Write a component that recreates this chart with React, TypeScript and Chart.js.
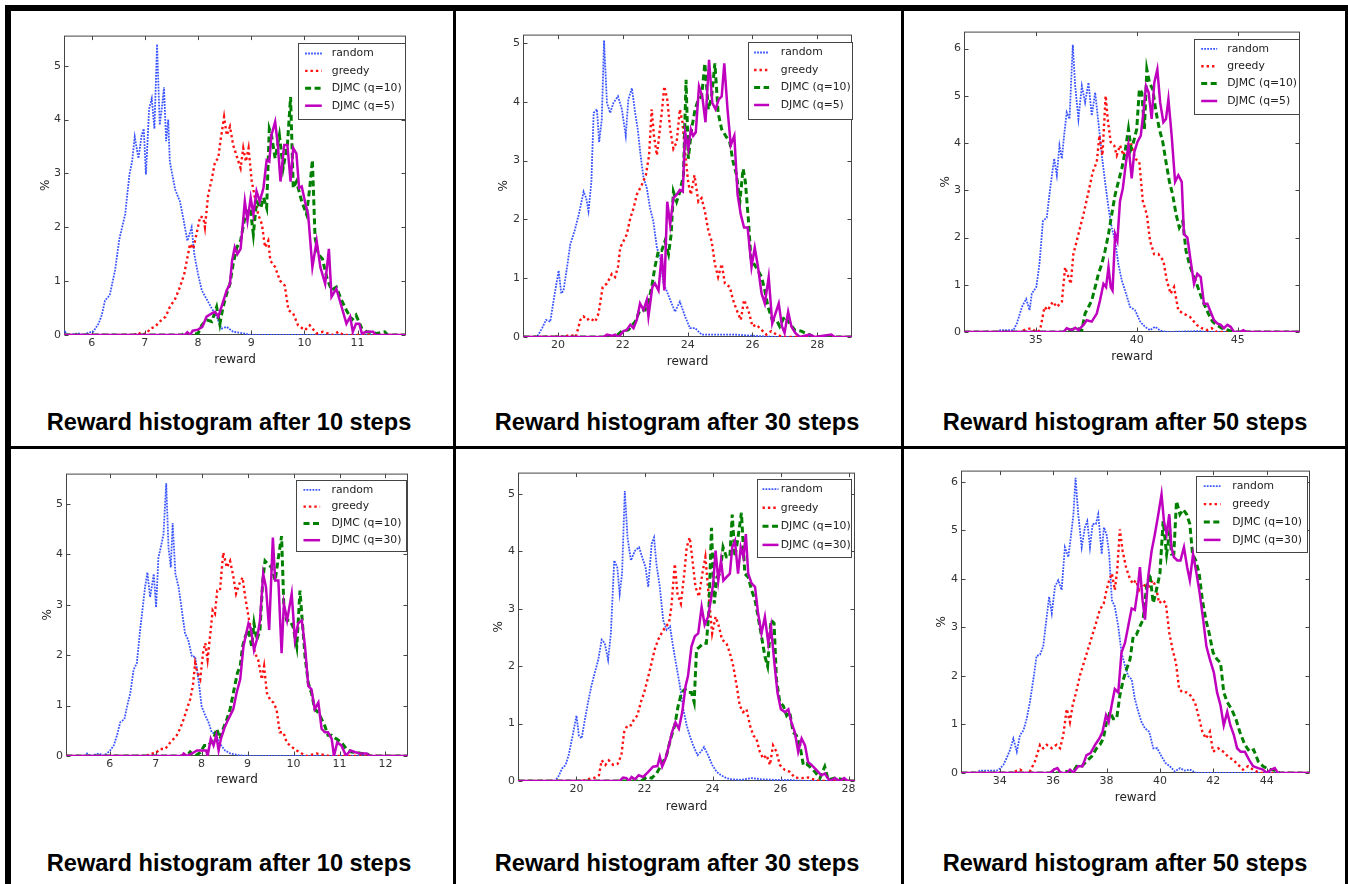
import React, { useEffect, useRef } from 'react';
import { Chart, registerables } from 'chart.js';

Chart.register(...registerables);

type Pt = [number, number];

// ---------------- shared labels ----------------
const seriesLabelsTop = ['random', 'greedy', 'DJMC (q=10)', 'DJMC (q=5)'];
const seriesLabelsBottom = ['random', 'greedy', 'DJMC (q=10)', 'DJMC (q=30)'];
const captions = [
  'Reward histogram after 10 steps',
  'Reward histogram after 30 steps',
  'Reward histogram after 50 steps',
  'Reward histogram after 10 steps',
  'Reward histogram after 30 steps',
  'Reward histogram after 50 steps',
];
const xAxisTitle = 'reward';
const yAxisTitle = '%';

// ---------------- panel 1 : 10 steps (q=5) ----------------
const p1XTicks = [6, 7, 8, 9, 10, 11];
const p1YTicks = [0, 1, 2, 3, 4, 5];
const p1Random: Pt[] = [[5.48,0],[5.5,0.06],[5.56,0],[5.75,0.03],[5.85,0],[5.95,0.05],[6.03,0.06],[6.13,0.21],[6.19,0.37],[6.25,0.64],[6.34,0.74],[6.44,1.2],[6.52,1.78],[6.63,2.24],[6.71,2.98],[6.76,3.22],[6.81,3.68],[6.88,3.28],[6.94,3.71],[6.98,3.83],[7.02,2.98],[7.08,4.2],[7.13,4.39],[7.18,3.83],[7.23,5.4],[7.28,3.9],[7.33,4.3],[7.36,4.6],[7.4,3.6],[7.44,4.0],[7.47,3.22],[7.57,2.7],[7.66,2.48],[7.72,2.18],[7.8,1.75],[7.88,2.0],[7.93,1.5],[8.0,1.13],[8.07,0.83],[8.16,0.67],[8.26,0.49],[8.35,0.34],[8.44,0.12],[8.54,0.15],[8.66,0.06],[8.85,0.03],[9.0,0],[11.91,0]];
const p1Greedy: Pt[] = [[5.48,0],[6.8,0],[6.87,0.05],[6.95,0],[7.05,0.05],[7.1,0.12],[7.19,0.15],[7.28,0.25],[7.39,0.34],[7.47,0.52],[7.57,0.67],[7.66,0.89],[7.74,1.13],[7.8,1.44],[7.85,1.69],[7.91,1.6],[7.97,1.87],[8.04,2.2],[8.1,2.18],[8.13,2.0],[8.19,2.6],[8.26,2.9],[8.32,3.22],[8.38,3.28],[8.42,3.59],[8.49,4.05],[8.54,3.71],[8.6,3.87],[8.66,3.53],[8.74,3.28],[8.8,3.1],[8.85,3.47],[8.9,3.22],[8.95,3.47],[9.01,2.85],[9.07,2.55],[9.13,2.24],[9.2,2.06],[9.26,1.63],[9.32,1.75],[9.36,1.38],[9.45,1.26],[9.54,1.01],[9.63,0.92],[9.7,0.46],[9.79,0.4],[9.88,0.18],[10.01,0.09],[10.1,0.18],[10.23,0.03],[10.35,0.06],[10.54,0],[10.64,0.06],[10.74,0],[11.91,0]];
const p1Djmc10: Pt[] = [[5.48,0],[7.7,0],[7.75,0.05],[7.85,0],[8.0,0.03],[8.07,0.18],[8.16,0.28],[8.26,0.25],[8.35,0.52],[8.41,0.2],[8.47,0.52],[8.54,0.77],[8.6,0.95],[8.66,1.32],[8.73,1.63],[8.8,1.75],[8.88,2.18],[8.98,2.36],[9.04,1.87],[9.1,2.48],[9.18,2.36],[9.23,2.55],[9.29,2.36],[9.34,3.83],[9.38,3.71],[9.45,3.28],[9.53,3.71],[9.6,3.1],[9.68,3.53],[9.74,4.42],[9.79,2.73],[9.85,2.85],[9.95,2.48],[10.04,2.24],[10.1,2.73],[10.15,3.25],[10.2,1.81],[10.26,1.5],[10.34,1.41],[10.42,1.07],[10.51,0.83],[10.6,0.89],[10.7,0.64],[10.79,0.46],[10.89,0.28],[10.97,0.37],[11.08,0.12],[11.17,0.06],[11.36,0.03],[11.51,0.06],[11.57,0],[11.91,0]];
const p1Djmc5: Pt[] = [[5.48,0],[7.75,0],[7.8,0.05],[7.85,0],[7.9,0.08],[8.0,0.1],[8.08,0.15],[8.16,0.34],[8.26,0.4],[8.32,0.43],[8.38,0.34],[8.44,0.52],[8.54,0.83],[8.6,0.95],[8.64,1.38],[8.69,1.63],[8.74,1.5],[8.8,1.6],[8.88,2.48],[8.93,2.12],[8.99,2.55],[9.04,2.24],[9.1,2.67],[9.16,2.48],[9.23,2.73],[9.29,3.25],[9.34,3.22],[9.38,3.71],[9.45,3.96],[9.5,3.53],[9.55,2.85],[9.62,3.53],[9.68,3.53],[9.74,2.85],[9.79,3.47],[9.85,3.37],[9.9,2.73],[9.95,2.76],[10.01,2.48],[10.07,2.24],[10.15,1.26],[10.23,1.75],[10.3,1.26],[10.39,0.95],[10.46,1.6],[10.51,0.71],[10.6,0.86],[10.7,0.52],[10.79,0.21],[10.86,0.34],[10.91,0.06],[10.97,0.21],[11.03,0.21],[11.08,0.03],[11.17,0.06],[11.29,0.06],[11.34,0],[11.91,0]];

// ---------------- panel 2 : 30 steps (q=5) ----------------
const p2XTicks = [20, 22, 24, 26, 28];
const p2YTicks = [0, 1, 2, 3, 4, 5];
const p2Random: Pt[] = [[18.92,0],[19.35,0],[19.51,0.15],[19.63,0.29],[19.76,0.26],[19.9,0.74],[20.02,1.13],[20.1,0.74],[20.17,0.79],[20.28,1.19],[20.38,1.58],[20.51,1.8],[20.64,2.08],[20.79,2.47],[20.87,2.36],[20.94,2.14],[21.03,2.64],[21.1,3.81],[21.2,3.87],[21.27,3.31],[21.35,3.7],[21.42,5.04],[21.51,3.98],[21.61,3.81],[21.71,3.98],[21.85,4.09],[21.97,3.87],[22.09,3.42],[22.17,4.04],[22.28,4.23],[22.38,3.81],[22.46,3.53],[22.56,3.03],[22.64,2.7],[22.74,2.53],[22.84,2.19],[22.94,1.97],[23.05,1.52],[23.15,1.35],[23.25,0.91],[23.35,0.79],[23.46,0.63],[23.61,0.43],[23.76,0.6],[23.92,0.35],[24.07,0.15],[24.23,0.15],[24.43,0.04],[24.64,0.04],[25.15,0.04],[25.46,0.04],[26.07,0.02],[26.7,0],[29.07,0]];
const p2Greedy: Pt[] = [[18.92,0],[20.23,0.01],[20.38,0.04],[20.55,0],[20.69,0.29],[20.79,0.35],[20.89,0.29],[20.99,0.32],[21.15,0.26],[21.25,0.4],[21.38,0.85],[21.51,0.91],[21.66,1.07],[21.76,1.02],[21.85,1.19],[21.92,1.52],[22.02,1.63],[22.12,1.74],[22.23,2.02],[22.33,2.19],[22.43,2.42],[22.58,2.58],[22.71,2.75],[22.81,3.09],[22.89,3.87],[22.96,3.42],[23.05,3.09],[23.12,3.42],[23.2,3.81],[23.28,4.26],[23.37,4.04],[23.46,3.53],[23.56,3.2],[23.66,3.31],[23.76,3.87],[23.84,3.65],[23.92,3.14],[24.02,2.61],[24.1,2.42],[24.21,2.75],[24.33,2.3],[24.43,2.36],[24.53,2.14],[24.64,1.8],[24.74,1.63],[24.84,1.24],[24.94,1.02],[25.05,1.24],[25.15,0.91],[25.3,0.85],[25.4,0.63],[25.51,0.46],[25.64,0.29],[25.74,0.63],[25.87,0.46],[26.0,0.18],[26.12,0.21],[26.28,0.12],[26.43,0.04],[26.58,0.1],[26.74,0.04],[26.94,0],[29.07,0]];
const p2Djmc10: Pt[] = [[18.92,0],[21.76,0],[21.97,0.1],[22.17,0.12],[22.38,0.26],[22.53,0.46],[22.69,0.46],[22.79,0.6],[22.89,0.85],[22.99,1.19],[23.1,1.47],[23.2,1.47],[23.3,1.63],[23.41,1.41],[23.49,1.74],[23.56,2.47],[23.66,2.3],[23.76,2.47],[23.87,2.75],[23.95,4.37],[24.02,3.03],[24.12,3.53],[24.23,3.87],[24.33,4.04],[24.43,4.09],[24.53,4.65],[24.64,3.87],[24.74,4.09],[24.84,4.65],[24.94,3.81],[25.05,3.53],[25.17,3.42],[25.3,3.31],[25.4,2.98],[25.51,2.75],[25.61,2.3],[25.71,2.86],[25.78,2.64],[25.87,2.02],[25.95,1.35],[26.05,1.24],[26.17,1.13],[26.28,1.02],[26.38,0.79],[26.48,0.51],[26.61,0.29],[26.74,0.29],[26.84,0.18],[26.99,0.35],[27.15,0.23],[27.3,0.12],[27.51,0.1],[27.61,0.07],[27.76,0.04],[27.9,0],[29.07,0]];
const p2Djmc5: Pt[] = [[18.92,0],[21.41,0],[21.51,0.04],[21.66,0.02],[21.76,0.04],[21.87,0],[22.02,0.1],[22.12,0.12],[22.23,0.21],[22.33,0.15],[22.43,0.29],[22.53,0.57],[22.64,0.46],[22.74,0.63],[22.79,0.35],[22.91,0.85],[22.99,0.91],[23.1,0.79],[23.2,1.41],[23.28,0.79],[23.37,2.3],[23.46,1.91],[23.56,2.36],[23.66,2.42],[23.76,2.5],[23.85,2.47],[23.92,3.48],[24.02,3.2],[24.1,3.53],[24.17,3.42],[24.25,3.48],[24.35,4.26],[24.45,4.09],[24.55,3.65],[24.66,4.71],[24.76,3.98],[24.86,3.87],[24.96,4.04],[25.05,4.09],[25.13,4.65],[25.23,3.87],[25.33,3.26],[25.44,3.42],[25.54,2.42],[25.64,2.08],[25.74,1.86],[25.85,1.86],[25.97,1.19],[26.07,1.52],[26.17,1.19],[26.28,0.74],[26.38,0.57],[26.5,1.02],[26.61,0.23],[26.71,0.4],[26.81,0.57],[26.91,0.18],[26.99,0.07],[27.1,0.43],[27.2,0.18],[27.32,0.07],[27.46,0],[27.76,0.04],[27.92,0],[28.43,0.04],[28.53,0],[29.07,0]];

// ---------------- panel 3 : 50 steps (q=5) ----------------
const p3XTicks = [35, 40, 45];
const p3YTicks = [0, 1, 2, 3, 4, 5, 6];
const p3Random: Pt[] = [[31.44,0],[33.15,0],[33.23,0.04],[33.89,0.04],[34.06,0.18],[34.31,0.53],[34.52,0.7],[34.69,0.46],[34.8,0.81],[35.02,0.95],[35.18,1.44],[35.35,2.35],[35.54,2.42],[35.71,3.04],[35.91,3.67],[36.04,3.32],[36.17,3.95],[36.29,3.67],[36.4,4.16],[36.53,4.65],[36.67,4.51],[36.83,6.08],[36.95,5.21],[37.11,4.51],[37.28,5.21],[37.44,4.86],[37.61,5.28],[37.77,4.58],[37.94,5.07],[38.1,4.44],[38.27,3.74],[38.43,3.18],[38.6,2.63],[38.76,2.21],[38.93,1.93],[39.09,1.44],[39.26,1.09],[39.42,0.88],[39.67,0.53],[39.92,0.46],[40.17,0.22],[40.41,0.11],[40.66,0.04],[40.91,0.11],[41.16,0.03],[41.49,0],[43.14,0.02],[43.4,0],[48.09,0]];
const p3Greedy: Pt[] = [[31.44,0],[34.22,0],[34.42,0.04],[34.75,0.08],[35.05,0],[35.21,0.04],[35.43,0.53],[35.59,0.46],[35.84,0.64],[36.04,0.53],[36.29,0.64],[36.45,1.37],[36.62,1.16],[36.73,1.02],[36.86,1.65],[37.11,2.07],[37.36,2.49],[37.61,2.97],[37.82,3.39],[38.02,3.6],[38.15,4.16],[38.3,3.74],[38.46,5.0],[38.56,4.51],[38.71,4.02],[38.88,3.95],[39.01,3.74],[39.17,3.95],[39.34,3.74],[39.5,3.95],[39.7,4.02],[39.92,3.67],[40.13,3.6],[40.3,2.77],[40.5,2.49],[40.66,1.93],[40.86,1.65],[41.07,1.65],[41.32,1.51],[41.49,1.09],[41.68,0.81],[41.85,0.95],[42.06,0.46],[42.31,0.39],[42.64,0.32],[42.97,0.15],[43.22,0.08],[43.47,0.04],[43.71,0.08],[43.96,0],[48.09,0]];
const p3Djmc10: Pt[] = [[31.44,0],[36.37,0],[36.7,0.04],[37.03,0.08],[37.28,0.04],[37.44,0.39],[37.61,0.53],[37.77,0.67],[37.94,0.95],[38.1,1.23],[38.27,1.44],[38.43,1.72],[38.6,2.07],[38.76,2.49],[38.93,2.91],[39.09,3.18],[39.26,3.46],[39.42,3.81],[39.59,4.3],[39.72,3.88],[39.84,4.02],[40.0,4.3],[40.13,5.14],[40.25,5.07],[40.38,4.3],[40.5,5.56],[40.63,5.28],[40.79,5.14],[40.96,4.65],[41.12,4.3],[41.29,4.02],[41.45,3.6],[41.62,3.18],[41.78,2.91],[41.95,2.49],[42.11,2.21],[42.28,2.35],[42.44,1.72],[42.61,1.44],[42.77,1.23],[42.97,1.02],[43.14,0.81],[43.33,0.6],[43.55,0.39],[43.76,0.22],[43.96,0.15],[44.21,0.08],[44.54,0.04],[44.8,0],[48.09,0]];
const p3Djmc5: Pt[] = [[31.44,0],[36.37,0],[36.53,0.08],[36.78,0.04],[36.95,0.09],[37.11,0.04],[37.36,0.15],[37.52,0.25],[37.77,0.22],[38.02,0.39],[38.18,0.67],[38.35,1.02],[38.48,0.95],[38.6,1.37],[38.71,0.95],[38.8,0.88],[38.93,2.07],[39.04,1.93],[39.17,2.77],[39.31,3.04],[39.47,3.6],[39.59,3.95],[39.75,3.25],[39.88,3.81],[40.03,4.02],[40.2,4.16],[40.33,4.65],[40.46,5.21],[40.59,5.07],[40.74,4.51],[40.87,5.28],[41.02,5.56],[41.16,4.86],[41.32,4.44],[41.45,4.51],[41.57,4.93],[41.73,4.16],[41.9,3.18],[42.06,3.32],[42.23,3.18],[42.34,2.07],[42.51,2.0],[42.67,1.51],[42.84,1.02],[43.0,1.23],[43.17,1.16],[43.33,0.6],[43.5,0.6],[43.66,0.43],[43.83,0.25],[43.99,0.18],[44.16,0.15],[44.32,0.08],[44.49,0.15],[44.65,0.11],[44.82,0],[45.12,0],[45.28,0.04],[45.45,0],[48.09,0]];

// ---------------- panel 4 : 10 steps (q=30) ----------------
const p4XTicks = [6, 7, 8, 9, 10, 11, 12];
const p4YTicks = [0, 1, 2, 3, 4, 5];
const p4Random: Pt[] = [[5.05,0],[5.45,0],[5.51,0.05],[5.58,0],[5.76,0.05],[5.87,0.01],[5.94,0.05],[6.01,0.11],[6.09,0.21],[6.16,0.41],[6.23,0.67],[6.32,0.73],[6.38,0.99],[6.45,1.25],[6.52,1.71],[6.59,1.84],[6.67,2.56],[6.72,2.95],[6.77,3.35],[6.82,3.64],[6.88,3.15],[6.96,3.61],[7.01,2.95],[7.06,3.93],[7.11,4.13],[7.17,4.39],[7.23,5.41],[7.28,4.13],[7.33,3.74],[7.37,4.62],[7.43,3.61],[7.5,3.35],[7.57,2.89],[7.64,2.43],[7.71,2.3],[7.79,1.97],[7.86,1.97],[7.93,1.52],[8.0,0.99],[8.08,0.8],[8.15,0.67],[8.22,0.47],[8.29,0.44],[8.4,0.24],[8.51,0.11],[8.62,0.05],[8.84,0.01],[9.1,0],[12.49,0]];
const p4Greedy: Pt[] = [[5.05,0],[6.81,0],[6.88,0.05],[6.99,0.05],[7.1,0.14],[7.21,0.14],[7.32,0.27],[7.39,0.34],[7.46,0.41],[7.53,0.54],[7.61,0.73],[7.68,0.93],[7.75,1.12],[7.81,1.39],[7.86,1.84],[7.91,1.65],[7.97,1.52],[8.03,2.04],[8.08,2.24],[8.13,1.91],[8.19,2.43],[8.24,2.89],[8.29,2.82],[8.34,3.28],[8.4,3.28],[8.47,4.03],[8.55,3.74],[8.62,3.87],[8.68,3.61],[8.75,3.22],[8.82,3.41],[8.89,3.54],[8.95,3.15],[9.02,2.76],[9.09,2.43],[9.16,2.04],[9.23,1.91],[9.31,1.52],[9.36,1.78],[9.42,1.25],[9.49,1.12],[9.56,1.06],[9.63,0.93],[9.7,0.47],[9.78,0.47],[9.85,0.27],[9.96,0.18],[10.07,0.11],[10.18,0.05],[10.28,0],[10.5,0.05],[10.61,0.03],[10.79,0],[12.49,0]];
const p4Djmc10: Pt[] = [[5.05,0],[7.68,0],[7.75,0.08],[7.86,0],[7.97,0.07],[8.06,0.21],[8.15,0.21],[8.26,0.34],[8.33,0.54],[8.4,0.34],[8.47,0.54],[8.55,0.73],[8.62,0.93],[8.69,1.25],[8.78,1.65],[8.84,1.78],[8.89,2.17],[8.95,2.37],[9.02,2.5],[9.09,2.17],[9.14,2.63],[9.2,2.3],[9.27,2.5],[9.33,3.48],[9.38,3.87],[9.45,3.8],[9.52,3.74],[9.6,3.48],[9.67,3.93],[9.74,4.36],[9.79,2.95],[9.85,2.69],[9.92,2.69],[9.99,2.56],[10.07,2.17],[10.14,3.28],[10.2,2.56],[10.25,1.97],[10.32,1.45],[10.39,1.25],[10.46,0.93],[10.54,0.86],[10.61,0.73],[10.68,0.6],[10.75,0.41],[10.83,0.41],[10.93,0.34],[11.04,0.27],[11.15,0.14],[11.26,0.08],[11.37,0.07],[11.48,0.05],[11.59,0.05],[11.66,0],[12.49,0]];
const p4Djmc30: Pt[] = [[5.05,0],[7.57,0],[7.61,0.05],[7.68,0],[7.79,0.05],[7.9,0.11],[8.0,0.11],[8.1,0.11],[8.13,0],[8.2,0.34],[8.26,0.21],[8.32,0.41],[8.37,0.11],[8.42,0.34],[8.49,0.54],[8.55,0.67],[8.62,0.8],[8.69,0.93],[8.76,1.25],[8.84,1.52],[8.91,2.17],[8.97,2.43],[9.02,2.63],[9.07,2.53],[9.14,2.1],[9.2,2.3],[9.27,2.69],[9.34,3.61],[9.4,3.35],[9.47,2.5],[9.55,4.33],[9.6,3.48],[9.67,3.48],[9.74,2.04],[9.79,3.02],[9.86,2.69],[9.96,3.22],[10.03,2.3],[10.1,2.63],[10.18,2.69],[10.25,2.17],[10.32,1.39],[10.39,1.32],[10.46,0.93],[10.54,1.06],[10.61,0.54],[10.68,0.47],[10.75,0.47],[10.83,0.34],[10.88,0],[10.95,0.27],[11.04,0.21],[11.14,0.01],[11.24,0.11],[11.33,0.08],[11.44,0.05],[11.59,0.05],[11.66,0],[12.49,0]];

// ---------------- panel 5 : 30 steps (q=30) ----------------
const p5XTicks = [20, 22, 24, 26, 28];
const p5YTicks = [0, 1, 2, 3, 4, 5];
const p5Random: Pt[] = [[18.28,0],[19.36,0],[19.46,0.07],[19.58,0.22],[19.68,0.28],[19.77,0.45],[19.87,0.74],[20.0,1.14],[20.07,0.79],[20.15,0.74],[20.25,1.08],[20.34,1.37],[20.44,1.66],[20.54,1.89],[20.64,2.11],[20.74,2.46],[20.83,2.4],[20.93,2.11],[21.01,2.57],[21.11,3.84],[21.2,3.72],[21.27,3.26],[21.34,3.61],[21.42,5.05],[21.5,4.24],[21.6,3.84],[21.72,4.01],[21.84,4.07],[21.93,3.9],[22.03,3.72],[22.11,3.38],[22.21,4.13],[22.28,4.24],[22.35,3.78],[22.45,3.38],[22.55,2.8],[22.65,2.63],[22.75,2.69],[22.84,2.34],[22.94,2.0],[23.04,1.66],[23.14,1.25],[23.24,0.97],[23.33,0.79],[23.43,0.62],[23.56,0.45],[23.66,0.51],[23.75,0.59],[23.87,0.45],[23.99,0.28],[24.12,0.16],[24.25,0.1],[24.41,0.05],[24.56,0.03],[24.85,0.02],[25.15,0.05],[25.44,0.03],[25.83,0.02],[26.23,0.02],[26.7,0],[28.19,0]];
const p5Greedy: Pt[] = [[18.28,0],[20.15,0],[20.34,0.03],[20.54,0.06],[20.66,0.1],[20.74,0.36],[20.85,0.28],[20.95,0.36],[21.08,0.28],[21.21,0.3],[21.32,0.45],[21.4,0.85],[21.5,0.97],[21.6,0.97],[21.7,1.08],[21.79,1.14],[21.89,1.37],[21.99,1.54],[22.09,1.77],[22.21,2.06],[22.3,2.29],[22.4,2.46],[22.5,2.57],[22.62,2.69],[22.72,2.75],[22.79,3.03],[22.89,3.78],[22.97,3.26],[23.07,3.09],[23.17,3.61],[23.24,4.07],[23.33,4.24],[23.4,3.9],[23.5,3.38],[23.6,3.21],[23.7,3.61],[23.79,3.9],[23.89,3.21],[23.99,2.57],[24.09,2.86],[24.19,2.69],[24.28,2.46],[24.41,2.4],[24.51,2.23],[24.61,2.0],[24.71,1.66],[24.8,1.31],[24.9,1.2],[25.0,1.25],[25.1,0.97],[25.2,0.79],[25.29,0.74],[25.39,0.51],[25.49,0.39],[25.59,0.45],[25.69,0.28],[25.78,0.62],[25.88,0.51],[25.98,0.28],[26.13,0.19],[26.27,0.16],[26.42,0.06],[26.62,0.05],[26.81,0.06],[26.96,0.03],[27.16,0],[28.19,0]];
const p5Djmc10: Pt[] = [[18.28,0],[21.91,0],[22.06,0.07],[22.21,0.05],[22.35,0.13],[22.5,0.28],[22.65,0.45],[22.77,0.74],[22.89,0.97],[22.99,1.31],[23.09,1.54],[23.19,1.6],[23.28,1.54],[23.38,1.54],[23.46,1.37],[23.53,2.29],[23.63,2.34],[23.73,2.4],[23.82,2.4],[23.89,2.92],[23.97,4.41],[24.05,3.09],[24.13,3.55],[24.22,3.61],[24.31,4.07],[24.41,3.9],[24.51,3.9],[24.58,4.64],[24.66,3.9],[24.75,4.24],[24.85,4.67],[24.95,3.61],[25.05,3.55],[25.15,3.32],[25.25,3.15],[25.34,2.86],[25.44,2.52],[25.54,2.17],[25.62,2.0],[25.72,2.8],[25.81,2.75],[25.88,1.77],[25.98,1.37],[26.08,1.31],[26.18,1.14],[26.27,1.2],[26.37,0.85],[26.47,0.79],[26.57,0.62],[26.67,0.28],[26.76,0.3],[26.86,0.25],[27.01,0.16],[27.16,0.05],[27.3,0.25],[27.4,0.02],[27.6,0.05],[27.79,0.03],[27.98,0],[28.19,0]];
const p5Djmc30: Pt[] = [[18.28,0],[21.27,0],[21.37,0.06],[21.47,0.05],[21.54,0],[21.62,0.07],[21.72,0.03],[21.83,0.1],[21.96,0.07],[22.11,0.16],[22.25,0.25],[22.38,0.26],[22.45,0.42],[22.52,0.25],[22.62,0.39],[22.72,0.62],[22.81,0.85],[22.91,1.02],[23.01,0.91],[23.11,1.2],[23.21,1.66],[23.28,1.83],[23.38,2.34],[23.48,2.52],[23.58,2.57],[23.68,3.03],[23.77,2.72],[23.87,2.86],[23.95,3.15],[24.02,3.44],[24.09,4.01],[24.17,3.49],[24.25,3.84],[24.32,3.49],[24.41,3.55],[24.51,3.61],[24.58,4.07],[24.66,4.18],[24.75,3.61],[24.83,4.07],[24.91,3.9],[24.98,4.3],[25.05,3.61],[25.15,3.44],[25.25,3.38],[25.34,2.92],[25.44,2.57],[25.54,2.86],[25.64,2.4],[25.72,2.69],[25.81,2.11],[25.91,1.54],[26.01,1.25],[26.13,1.2],[26.23,1.25],[26.32,1.02],[26.42,0.85],[26.52,0.51],[26.62,0.74],[26.72,0.62],[26.81,0.33],[26.91,0.28],[27.06,0.19],[27.2,0.1],[27.3,0.13],[27.45,0],[27.6,0.05],[27.75,0],[27.87,0.05],[27.98,0],[28.19,0]];

// ---------------- panel 6 : 50 steps (q=30) ----------------
const p6XTicks = [34, 36, 38, 40, 42, 44];
const p6YTicks = [0, 1, 2, 3, 4, 5, 6];
const p6Random: Pt[] = [[32.55,0],[33.14,0],[33.26,0.05],[33.89,0.05],[34.01,0.09],[34.14,0.17],[34.26,0.31],[34.39,0.48],[34.51,0.71],[34.64,0.44],[34.76,0.78],[34.89,0.88],[35.01,1.12],[35.13,1.46],[35.26,1.93],[35.38,2.41],[35.51,2.44],[35.63,2.61],[35.76,3.22],[35.85,3.63],[35.95,3.29],[36.07,3.84],[36.19,3.97],[36.32,3.77],[36.44,4.65],[36.57,4.45],[36.66,4.85],[36.76,5.33],[36.84,6.08],[36.94,5.33],[37.07,4.65],[37.19,5.06],[37.28,5.19],[37.38,4.65],[37.48,5.13],[37.6,5.13],[37.69,5.33],[37.82,4.51],[37.9,5.06],[38.0,4.92],[38.1,4.51],[38.2,3.56],[38.31,3.43],[38.44,3.02],[38.56,2.48],[38.69,2.21],[38.81,2.0],[38.94,1.93],[39.06,1.53],[39.19,1.26],[39.31,1.05],[39.44,0.92],[39.6,0.85],[39.75,0.51],[39.9,0.51],[40.06,0.34],[40.22,0.2],[40.37,0.14],[40.56,0.03],[40.75,0.1],[40.93,0.05],[41.12,0.07],[41.37,0],[45.62,0]];
const p6Greedy: Pt[] = [[32.55,0],[34.39,0],[34.57,0.03],[34.76,0.07],[34.95,0],[35.13,0.03],[35.32,0.24],[35.51,0.58],[35.63,0.51],[35.76,0.58],[35.95,0.51],[36.13,0.58],[36.26,0.51],[36.38,0.78],[36.51,1.32],[36.63,1.05],[36.73,1.39],[36.86,1.66],[37.0,2.0],[37.19,2.34],[37.38,2.68],[37.57,3.02],[37.75,3.36],[37.9,3.5],[38.0,3.77],[38.1,3.97],[38.2,4.11],[38.31,3.77],[38.4,4.18],[38.5,5.02],[38.6,4.58],[38.73,4.24],[38.85,4.04],[38.98,3.9],[39.1,3.97],[39.22,3.77],[39.35,3.9],[39.47,3.84],[39.6,3.84],[39.72,3.97],[39.85,3.84],[39.97,3.5],[40.1,3.56],[40.22,3.5],[40.35,2.89],[40.47,2.55],[40.6,2.27],[40.72,1.73],[40.85,1.66],[41.0,1.66],[41.14,1.6],[41.31,1.46],[41.47,1.12],[41.59,0.85],[41.72,0.71],[41.87,0.85],[41.99,0.44],[42.18,0.51],[42.37,0.44],[42.55,0.34],[42.74,0.27],[42.93,0.17],[43.11,0.07],[43.3,0.14],[43.49,0.07],[43.74,0],[45.62,0]];
const p6Djmc10: Pt[] = [[32.55,0],[36.26,0],[36.51,0.03],[36.76,0.03],[36.88,0.14],[37.07,0.14],[37.25,0.24],[37.44,0.34],[37.63,0.51],[37.75,0.58],[37.88,0.71],[38.0,1.05],[38.13,1.26],[38.25,1.12],[38.38,1.12],[38.5,1.6],[38.63,1.93],[38.75,2.14],[38.88,2.34],[39.0,2.82],[39.12,2.85],[39.25,3.02],[39.37,3.16],[39.5,3.84],[39.62,4.11],[39.75,3.5],[39.87,3.77],[40.0,4.11],[40.12,5.19],[40.25,4.51],[40.37,4.99],[40.43,4.51],[40.52,4.51],[40.62,5.6],[40.75,5.33],[40.87,5.43],[41.0,5.33],[41.12,5.13],[41.22,4.51],[41.34,4.38],[41.47,4.11],[41.59,3.56],[41.72,3.16],[41.84,2.89],[41.99,2.48],[42.14,2.34],[42.27,2.27],[42.39,1.66],[42.52,1.46],[42.68,1.32],[42.84,1.12],[42.99,0.85],[43.18,0.58],[43.36,0.44],[43.51,0.48],[43.68,0.24],[43.86,0.14],[43.99,0.1],[44.17,0.07],[44.36,0.05],[44.49,0],[45.62,0]];
const p6Djmc30: Pt[] = [[32.55,0],[35.88,0],[36.03,0.07],[36.16,0.1],[36.28,0],[36.51,0],[36.63,0.07],[36.76,0.01],[36.94,0.14],[37.1,0.14],[37.25,0.37],[37.4,0.41],[37.57,0.58],[37.73,0.71],[37.85,0.85],[37.98,1.19],[38.08,1.05],[38.19,1.39],[38.31,1.73],[38.44,1.66],[38.56,2.48],[38.69,2.68],[38.81,3.02],[38.94,3.39],[39.06,3.36],[39.15,3.7],[39.25,4.24],[39.35,3.56],[39.44,3.16],[39.56,4.04],[39.69,4.58],[39.81,4.92],[39.94,5.33],[40.06,5.74],[40.15,5.19],[40.25,4.92],[40.35,5.33],[40.43,4.65],[40.52,4.45],[40.65,4.38],[40.77,4.38],[40.9,4.65],[41.02,4.24],[41.12,3.97],[41.24,4.51],[41.37,4.11],[41.49,3.7],[41.62,3.16],[41.74,2.61],[41.87,2.34],[42.02,2.07],[42.14,1.66],[42.27,1.39],[42.39,0.98],[42.52,1.26],[42.64,0.98],[42.77,0.78],[42.89,0.51],[43.02,0.44],[43.18,0.44],[43.34,0.27],[43.49,0.14],[43.68,0.1],[43.86,0.07],[43.99,0],[44.17,0.07],[44.3,0.1],[44.42,0],[45.62,0]];

// ---------------- styles & layout (not data) ----------------
const SERIES_STYLE = [
  { color: '#3a55ff', width: 1.8, dash: [1.8, 1.2] },
  { color: '#ff1010', width: 2.4, dash: [2.4, 3] },
  { color: '#008000', width: 3, dash: [6, 3.5] },
  { color: '#bf00bf', width: 2.5, dash: [] as number[] },
];
const FRAME_COLOR = '#454545';
const TICK_COLOR = '#333333';
const FONT = '"DejaVu Sans", Verdana, sans-serif';
const PAD_L = 44, PAD_T = 6, PAD_R = 6, PAD_B = 44;

interface LegendGeom { x: number; y: number; w: number; h: number; row0: number; step: number; l0: number; l1: number; tx: number; }
interface PanelCfg {
  plot: { l: number; t: number; r: number; b: number };
  xMin: number; xMax: number; yMax: number;
  xTicks: number[]; yTicks: number[];
  series: Pt[][]; labels: string[];
  legend: LegendGeom; xTitleGap: number; yTitleGap: number;
}

const PANELS: PanelCfg[] = [
  { plot: { l: 64, t: 32, r: 406, b: 335 }, xMin: 5.48, xMax: 11.91, yMax: 5.56, xTicks: p1XTicks, yTicks: p1YTicks,
    series: [p1Random, p1Greedy, p1Djmc10, p1Djmc5], labels: seriesLabelsTop,
    legend: { x: 233.5, y: 7, w: 107, h: 76, row0: 10, step: 17.4, l0: 6.6, l1: 23.3, tx: 33.3 }, xTitleGap: 24.5, yTitleGap: 18.5 },
  { plot: { l: 523, t: 31, r: 852, b: 337 }, xMin: 18.92, xMax: 29.07, yMax: 5.14, xTicks: p2XTicks, yTicks: p2YTicks,
    series: [p2Random, p2Greedy, p2Djmc10, p2Djmc5], labels: seriesLabelsTop,
    legend: { x: 225, y: 7.3, w: 104, h: 77, row0: 10, step: 17.5, l0: 5.6, l1: 20.6, tx: 32.3 }, xTitleGap: 24.4, yTitleGap: 18.7 },
  { plot: { l: 964, t: 28, r: 1300, b: 332 }, xMin: 31.44, xMax: 48.09, yMax: 6.36, xTicks: p3XTicks, yTicks: p3YTicks,
    series: [p3Random, p3Greedy, p3Djmc10, p3Djmc5], labels: seriesLabelsTop,
    legend: { x: 229.5, y: 7.5, w: 105, h: 75, row0: 9.3, step: 17.4, l0: 6.7, l1: 22.7, tx: 32.7 }, xTitleGap: 24.7, yTitleGap: 18 },
  { plot: { l: 66, t: 470, r: 408, b: 756 }, xMin: 5.05, xMax: 12.49, yMax: 5.6, xTicks: p4XTicks, yTicks: p4YTicks,
    series: [p4Random, p4Greedy, p4Djmc10, p4Djmc30], labels: seriesLabelsBottom,
    legend: { x: 230, y: 6, w: 110, h: 71, row0: 9.3, step: 16.8, l0: 7, l1: 23.6, tx: 35 }, xTitleGap: 23.7, yTitleGap: 18 },
  { plot: { l: 518, t: 469, r: 855, b: 781 }, xMin: 18.28, xMax: 28.19, yMax: 5.37, xTicks: p5XTicks, yTicks: p5YTicks,
    series: [p5Random, p5Greedy, p5Djmc10, p5Djmc30], labels: seriesLabelsBottom,
    legend: { x: 238.5, y: 6.5, w: 94, h: 78, row0: 9.6, step: 18.6, l0: 5, l1: 21, tx: 23.3 }, xTitleGap: 26.3, yTitleGap: 18.7 },
  { plot: { l: 961, t: 467, r: 1310, b: 773 }, xMin: 32.55, xMax: 45.62, yMax: 6.23, xTicks: p6XTicks, yTicks: p6YTicks,
    series: [p6Random, p6Greedy, p6Djmc10, p6Djmc30], labels: seriesLabelsBottom,
    legend: { x: 235, y: 5, w: 111, h: 76, row0: 9.7, step: 17.9, l0: 7.3, l1: 24, tx: 35.7 }, xTitleGap: 25, yTitleGap: 19 },
];

const CAPTION_POS = [
  { cx: 229, top: 411 }, { cx: 677, top: 411 }, { cx: 1125, top: 411 },
  { cx: 229, top: 852 }, { cx: 677, top: 852 }, { cx: 1125, top: 852 },
];

function Panel({ cfg }: { cfg: PanelCfg }) {
  const ref = useRef<HTMLCanvasElement | null>(null);
  const W = cfg.plot.r - cfg.plot.l + PAD_L + PAD_R;
  const H = cfg.plot.b - cfg.plot.t + PAD_T + PAD_B;

  useEffect(() => {
    if (!ref.current) return;
    const framePlugin = {
      id: 'frameTicks',
      beforeDatasetsDraw(chart: any) {
        const { ctx, chartArea: a, scales } = chart;
        const xs = scales.x, ys = scales.y;
        ctx.save();
        ctx.strokeStyle = FRAME_COLOR;
        ctx.lineWidth = 1;
        const L = a.left + 0.5, R = a.right - 0.5, T = a.top + 0.5, B = a.bottom - 0.5;
        ctx.strokeRect(L, T, R - L, B - T);
        ctx.beginPath();
        cfg.xTicks.forEach((v) => {
          const px = Math.round(xs.getPixelForValue(v)) + 0.5;
          ctx.moveTo(px, B); ctx.lineTo(px, B - 4);
          ctx.moveTo(px, T); ctx.lineTo(px, T + 4);
        });
        cfg.yTicks.forEach((v) => {
          const py = Math.round(ys.getPixelForValue(v)) + 0.5;
          ctx.moveTo(L, py); ctx.lineTo(L + 4, py);
          ctx.moveTo(R, py); ctx.lineTo(R - 4, py);
        });
        ctx.stroke();
        ctx.restore();
      },
    };
    const legendPlugin = {
      id: 'boxLegend',
      afterDatasetsDraw(chart: any) {
        const { ctx, chartArea: a } = chart;
        const g = cfg.legend;
        const x0 = Math.round(a.left + g.x) + 0.5;
        const y0 = Math.round(a.top + g.y) + 0.5;
        ctx.save();
        ctx.fillStyle = '#ffffff';
        ctx.fillRect(x0, y0, Math.round(g.w), Math.round(g.h));
        ctx.strokeStyle = FRAME_COLOR;
        ctx.lineWidth = 1;
        ctx.strokeRect(x0, y0, Math.round(g.w), Math.round(g.h));
        chart.data.datasets.forEach((ds: any, i: number) => {
          const cy = y0 + g.row0 + i * g.step;
          ctx.beginPath();
          ctx.setLineDash(ds.borderDash || []);
          ctx.strokeStyle = ds.borderColor;
          ctx.lineWidth = ds.borderWidth;
          ctx.moveTo(x0 + g.l0, cy);
          ctx.lineTo(x0 + g.l1, cy);
          ctx.stroke();
          ctx.setLineDash([]);
          ctx.fillStyle = '#222222';
          ctx.font = `10.8px ${FONT}`;
          ctx.textBaseline = 'middle';
          ctx.textAlign = 'left';
          ctx.fillText(ds.label, x0 + g.tx, cy);
        });
        ctx.restore();
      },
    };

    const chart = new Chart(ref.current, {
      type: 'line',
      data: {
        datasets: cfg.series.map((s, i) => ({
          label: cfg.labels[i],
          data: s.map(([x, y]) => ({ x, y })),
          borderColor: SERIES_STYLE[i].color,
          borderWidth: SERIES_STYLE[i].width,
          borderDash: SERIES_STYLE[i].dash,
          pointRadius: 0,
          tension: 0,
          fill: false,
          order: 4 - i,
        })),
      },
      options: {
        responsive: false,
        animation: false,
        events: [],
        layout: { padding: { left: 0, top: PAD_T, right: PAD_R, bottom: 0 } },
        plugins: { legend: { display: false }, tooltip: { enabled: false } },
        scales: {
          x: {
            type: 'linear',
            min: cfg.xMin,
            max: cfg.xMax,
            afterBuildTicks: (scale: any) => { scale.ticks = cfg.xTicks.map((v) => ({ value: v })); },
            afterFit: (scale: any) => { scale.height = PAD_B; },
            grid: { display: false, drawTicks: false },
            border: { display: false },
            ticks: { color: TICK_COLOR, font: { family: FONT, size: 11 }, padding: 2, maxRotation: 0, autoSkip: false, callback: (v: any) => String(v) },
            title: { display: true, text: xAxisTitle, color: '#222', font: { family: FONT, size: 12 }, padding: { top: 0, bottom: PAD_B - cfg.xTitleGap - 7.2 } },
          },
          y: {
            type: 'linear',
            min: 0,
            max: cfg.yMax,
            afterBuildTicks: (scale: any) => { scale.ticks = cfg.yTicks.map((v) => ({ value: v })); },
            afterFit: (scale: any) => { scale.width = PAD_L; },
            grid: { display: false, drawTicks: false },
            border: { display: false },
            ticks: { color: TICK_COLOR, font: { family: FONT, size: 11 }, padding: 3, autoSkip: false, callback: (v: any) => String(v) },
            title: { display: true, text: yAxisTitle, color: '#222', font: { family: FONT, size: 12 }, padding: { top: PAD_L - cfg.yTitleGap - 7.2, bottom: 0 } },
          },
        },
      } as any,
      plugins: [framePlugin, legendPlugin],
    });
    return () => chart.destroy();
  }, []);

  return (
    <canvas
      ref={ref}
      width={W}
      height={H}
      style={{ position: 'absolute', left: cfg.plot.l - PAD_L, top: cfg.plot.t - PAD_T, width: W, height: H }}
    />
  );
}

const line = (left: number, top: number, width: number, height: number) => (
  <div style={{ position: 'absolute', left, top, width, height, background: '#000' }} />
);

export default function App() {
  return (
    <div style={{ position: 'absolute', left: 0, top: 0, width: 1348, height: 884, overflow: 'hidden', background: '#fff' }}>
      {line(5, 5, 1343, 6)}
      {line(5, 5, 6, 879)}
      {line(1345, 5, 3, 879)}
      {line(453, 5, 3, 879)}
      {line(901, 5, 3, 879)}
      {line(5, 446, 1343, 3)}
      {PANELS.map((p, i) => <Panel key={i} cfg={p} />)}
      {captions.map((c, i) => (
        <div
          key={'c' + i}
          style={{
            position: 'absolute',
            left: CAPTION_POS[i].cx - 220,
            top: CAPTION_POS[i].top,
            width: 440,
            textAlign: 'center',
            fontFamily: '"Liberation Sans", Arial, sans-serif',
            fontWeight: 'bold',
            fontSize: '23.6px',
            lineHeight: '23.6px',
            whiteSpace: 'nowrap',
            color: '#000',
          }}
        >
          {c}
        </div>
      ))}
    </div>
  );
}
